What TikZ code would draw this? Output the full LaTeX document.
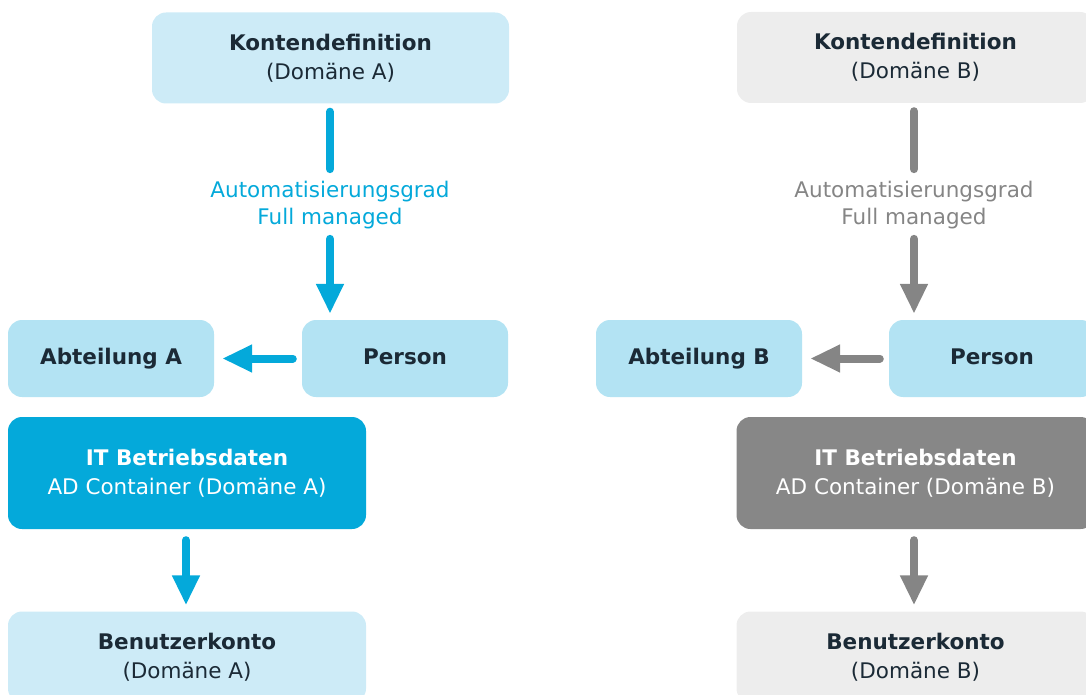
\documentclass[tikz,border=0pt]{standalone}
\usepackage{fontspec}
\setmainfont{DejaVu Sans}
\usetikzlibrary{arrows.meta}
\definecolor{paleBlue}{HTML}{CDEBF7}
\definecolor{skyBlue}{HTML}{B3E3F3}
\definecolor{deepBlue}{HTML}{04A9DA}
\definecolor{paleGray}{HTML}{EDEDED}
\definecolor{darkGray}{HTML}{878787}
\definecolor{navy}{HTML}{1B2A36}
\definecolor{lineGray}{HTML}{858585}
\begin{document}
\begin{tikzpicture}[x=1pt,y=-1pt]
\tikzstyle{box}=[rectangle,rounded corners=14pt,inner sep=0pt,align=center,text=navy,font=\fontsize{21.5}{29}\selectfont]
\tikzstyle{konto}=[box,minimum width=357pt,minimum height=91pt]
\tikzstyle{small}=[box,fill=skyBlue,minimum width=206pt,minimum height=77pt,text height=16pt,text depth=5pt]
\tikzstyle{wide}=[box,minimum width=358pt,minimum height=112pt,text=white]
\tikzstyle{grad}=[inner sep=0pt,align=center,font=\fontsize{21.5}{26.5}\selectfont]
\tikzstyle{stem}=[line width=8pt,line cap=round]
\tikzstyle{flow}=[stem,-{Triangle[width=26pt,length=30pt]}]

\useasboundingbox (0,0) rectangle (1086,695);
\clip (0,0) rectangle (1086,695);

%domain A
\node[konto,fill=paleBlue] (kontoA) at (330.5,58) {\textbf{Kontendefinition}\\(Domäne A)};
\node[grad,text=deepBlue] (gradA) at (330,205) {Automatisierungsgrad\\Full managed};
\node[small] (personA) at (405,358.5) {\textbf{Person}};
\node[small] (abtA) at (111,358.5) {\textbf{Abteilung A}};
\node[wide,fill=deepBlue] (itA) at (187,473) {\textbf{IT Betriebsdaten}\\AD Container (Domäne A)};
\node[konto,fill=paleBlue,minimum width=358pt] (userA) at (187,657) {\textbf{Benutzerkonto}\\(Domäne A)};

\draw[stem,deepBlue,shorten <=8pt,shorten >=12pt] (kontoA.south -| gradA) -- (gradA);
\draw[flow,deepBlue,shorten <=10pt,shorten >=6pt] (gradA) -- (personA.north -| gradA);
\draw[flow,deepBlue,shorten <=9pt,shorten >=8pt] (personA) -- (abtA);
\draw[flow,deepBlue,shorten <=11pt,shorten >=6pt] (itA.south -| 186,0) -- (userA.north -| 186,0);

%domain B
\node[konto,fill=paleGray] (kontoB) at (915.5,57.5) {\textbf{Kontendefinition}\\(Domäne B)};
\node[grad,text=lineGray] (gradB) at (914,205) {Automatisierungsgrad\\Full managed};
\node[small] (personB) at (992,358.5) {\textbf{Person}};
\node[small] (abtB) at (699,358.5) {\textbf{Abteilung B}};
\node[wide,fill=darkGray] (itB) at (915.5,473) {\textbf{IT Betriebsdaten}\\AD Container (Domäne B)};
\node[konto,fill=paleGray,minimum width=358pt] (userB) at (915.5,657) {\textbf{Benutzerkonto}\\(Domäne B)};

\draw[stem,lineGray,shorten <=8pt,shorten >=12pt] (kontoB.south -| gradB) -- (gradB);
\draw[flow,lineGray,shorten <=10pt,shorten >=6pt] (gradB) -- (personB.north -| gradB);
\draw[flow,lineGray,shorten <=9pt,shorten >=8pt] (personB) -- (abtB);
\draw[flow,lineGray,shorten <=11pt,shorten >=6pt] (itB.south -| 914,0) -- (userB.north -| 914,0);

\end{tikzpicture}
\end{document}
